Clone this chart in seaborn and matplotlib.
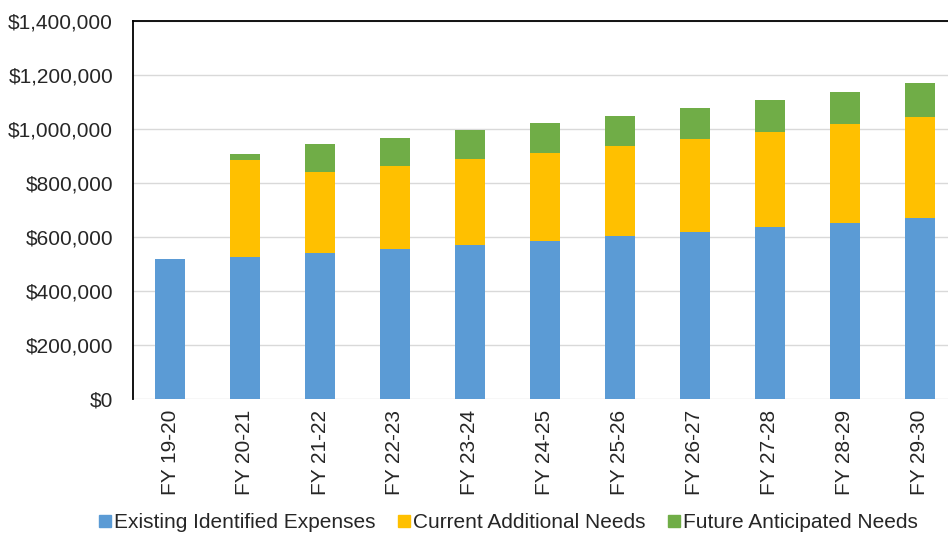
import matplotlib
matplotlib.use("Agg")
import matplotlib.pyplot as plt
import seaborn as sns
import pandas as pd
import numpy as np
from matplotlib.ticker import FuncFormatter, MultipleLocator
from matplotlib.lines import Line2D

years = ["FY 19-20", "FY 20-21", "FY 21-22", "FY 22-23", "FY 23-24", "FY 24-25",
         "FY 25-26", "FY 26-27", "FY 27-28", "FY 28-29", "FY 29-30"]
existing = [518000, 527000, 540000, 555000, 570000, 585000, 602000, 617000, 635000, 652000, 670000]
current = [0, 358000, 300000, 307000, 317000, 325000, 334000, 345000, 354000, 365000, 373000]
future = [0, 21000, 104000, 104000, 108000, 111000, 111000, 115000, 118000, 119000, 125000]
series_names = ["Existing Identified Expenses", "Current Additional Needs", "Future Anticipated Needs"]
colors = ["#5B9BD5", "#FFC000", "#70AD47"]

sns.set_theme(style="white")
plt.rcParams["font.family"] = ["Liberation Sans", "DejaVu Sans"]

df = pd.DataFrame({"year": years, "existing": existing, "current": current, "future": future})
df["lvl1"] = df["existing"]
df["lvl2"] = df["existing"] + df["current"]
df["lvl3"] = df["lvl2"] + df["future"]

fig = plt.figure(figsize=(9.48, 5.37), dpi=100)
ax = fig.add_axes([132.5 / 948, 138 / 537, 825 / 948, 378.3 / 537])

bw = 0.41
sns.barplot(data=df, x="year", y="lvl3", color=colors[2], saturation=1, width=bw, ax=ax, linewidth=0, zorder=3)
sns.barplot(data=df, x="year", y="lvl2", color=colors[1], saturation=1, width=bw, ax=ax, linewidth=0, zorder=3)
sns.barplot(data=df, x="year", y="lvl1", color=colors[0], saturation=1, width=bw, ax=ax, linewidth=0, zorder=3)

ax.set_ylim(0, 1400000)
ax.set_xlim(-0.5, len(years) - 0.5)
ax.yaxis.set_major_locator(MultipleLocator(200000))
ax.yaxis.set_major_formatter(FuncFormatter(lambda v, p: f"${v:,.0f}"))
ax.grid(axis="y", color="#D9D9D9", linewidth=1.0, zorder=0)
ax.set_axisbelow(True)
ax.set_xlabel("")
ax.set_ylabel("")

for s in ["right", "bottom"]:
    ax.spines[s].set_visible(False)
ax.spines["left"].set_color("black")
ax.spines["left"].set_linewidth(1.3)
ax.spines["top"].set_color("black")
ax.spines["top"].set_linewidth(1.3)

ax.tick_params(axis="y", length=0, pad=14, labelsize=15, labelcolor="#262626")
ax.tick_params(axis="x", length=0, pad=8, labelsize=15, labelcolor="#262626")
plt.setp(ax.get_xticklabels(), rotation=90)

handles = [Line2D([0], [0], marker="s", linestyle="none", markersize=9,
                  markerfacecolor=c, markeredgecolor=c) for c in colors]
fig.legend(handles, series_names, loc="center", bbox_to_anchor=(0.535, 1 - 523 / 537),
           ncol=3, frameon=False, fontsize=15, handletextpad=0.0, columnspacing=1.0,
           labelcolor="#262626", handlelength=0.8)

fig.savefig("out.png", dpi=100)
